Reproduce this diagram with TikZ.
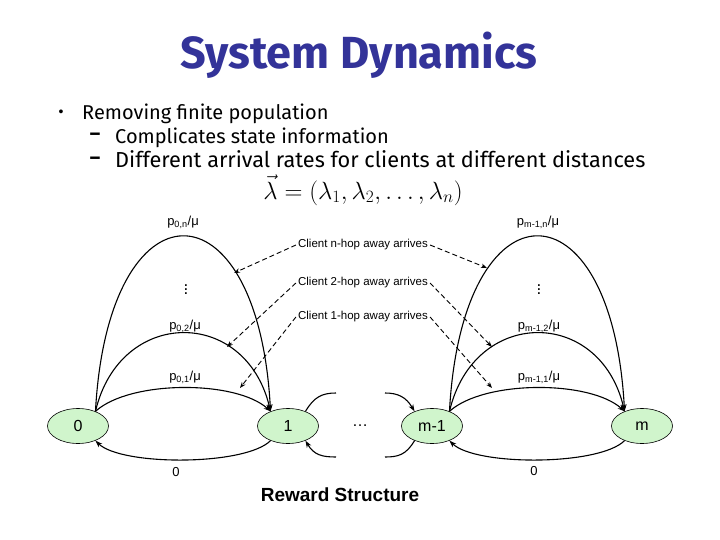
\documentclass[tikz,border=0pt]{standalone}
\usepackage{fontspec}
\setmainfont{Liberation Sans}
\newfontfamily\comicfont{Fira Sans}
\usetikzlibrary{shapes.geometric,arrows.meta}
\definecolor{stategreen}{RGB}{208,245,204}
\definecolor{titleblue}{RGB}{51,51,153}
\begin{document}
\begin{tikzpicture}[x=1pt,y=-1pt,
  state/.style={ellipse,draw,line width=0.6pt,fill=stategreen,minimum width=61pt,minimum height=35pt,inner sep=0pt,font=\fontsize{16}{18}\selectfont},
  trans/.style={line width=1.1pt,-{Stealth[length=7pt,width=5pt]}},
  plain/.style={line width=1.1pt},
  dasharrow/.style={line width=0.9pt,dash pattern=on 5pt off 3pt,-{Stealth[length=6pt,width=4.5pt]}},
  rate/.style={font=\fontsize{13}{15}\selectfont,inner sep=1pt},
  vdotsstyle/.style={font=\fontsize{17}{19}\selectfont,inner sep=0pt},
  clientlbl/.style={font=\fontsize{11.5}{13}\selectfont,inner sep=2pt},
  bullettext/.style={anchor=base west,inner sep=0pt,font=\comicfont\fontsize{20}{24}\selectfont}]
\useasboundingbox (0,0) rectangle (720,540);
\fill[white] (0,0) rectangle (720,540);

% title and bullets
\node[font=\comicfont\bfseries\fontsize{45}{52}\selectfont,text=titleblue] (title) at (359,55) {System Dynamics};
\node[anchor=center,font=\fontsize{14}{16}\selectfont] (b1) at (61,113) {•};
\node[bullettext] (t1) at (82,120) {Removing finite population};
\node[anchor=center,font=\comicfont\bfseries\fontsize{20}{24}\selectfont] (d2) at (95,137) {–};
\node[bullettext] (t2) at (115,144) {Complicates state information};
\node[anchor=center,font=\comicfont\bfseries\fontsize{20}{24}\selectfont] (d3) at (95,161) {–};
\node[bullettext,font=\comicfont\fontsize{21.7}{24}\selectfont] (t3) at (115,168) {Different arrival rates for clients at different distances};
\node[font=\fontsize{25}{29}\selectfont] (lam) at (363,190) {$\vec{\lambda}=(\lambda_1,\lambda_2,\ldots,\lambda_n)$};

% states
\node[state] (n0) at (78,426) {0};
\node[state] (n1) at (288,426) {1};
\node[state] (nm1) at (432,426) {m-1};
\node[state] (nm) at (642,426) {m};
\node[font=\fontsize{16}{18}\selectfont] (dots) at (360,426) {\ldots};

% left arcs 0 -> 1
\draw[trans] (n0.40) .. controls (108,178) and (258,178) .. (n1.140);
\draw[trans] (n0.40) .. controls (120,307) and (246,307) .. (n1.140);
\draw[trans] (n0.40) .. controls (130,380) and (236,380) .. (n1.140);
\draw[trans] (n1.-140) .. controls (245,466) and (121,466) .. (n0.-40);
\node[rate] (l0n) at (183,222) {p\textsubscript{0,n}/μ};
\node[rate] (l02) at (185,326) {p\textsubscript{0,2}/μ};
\node[rate] (l01) at (185,377) {p\textsubscript{0,1}/μ};
\node[vdotsstyle] (vd0) at (186,287) {$\vdots$};
\node[rate] (z0) at (176,472) {0};

% right arcs m-1 -> m
\draw[trans] (nm1.40) .. controls (462,178) and (612,178) .. (nm.140);
\draw[trans] (nm1.40) .. controls (474,307) and (600,307) .. (nm.140);
\draw[trans] (nm1.40) .. controls (484,380) and (590,380) .. (nm.140);
\draw[trans] (nm.-140) .. controls (599,466) and (475,466) .. (nm1.-40);
\node[rate] (lmn) at (538,222) {p\textsubscript{m-1,n}/μ};
\node[rate] (lm2) at (539,326) {p\textsubscript{m-1,2}/μ};
\node[rate] (lm1) at (539,377) {p\textsubscript{m-1,1}/μ};
\node[vdotsstyle] (vdm) at (539,287) {$\vdots$};
\node[rate] (zm) at (534,471) {0};

% partial arcs around the dots
\coordinate (pa1) at (336,393);
\coordinate (pa2) at (385,393);
\coordinate (pa3) at (336,457);
\coordinate (pa4) at (385,457);
\draw[plain] (n1.40) .. controls (314,397) and (322,393) .. (pa1);
\draw[trans] (pa2) .. controls (398,393) and (406,397) .. (nm1.140);
\draw[trans] (pa3) .. controls (322,457) and (314,455) .. (n1.-40);
\draw[plain] (nm1.-140) .. controls (406,455) and (398,457) .. (pa4);

% client arrivals
\node[clientlbl] (c1) at (363,245) {Client n-hop away arrives};
\node[clientlbl] (c2) at (363,283) {Client 2-hop away arrives};
\node[clientlbl] (c3) at (363,317) {Client 1-hop away arrives};
\coordinate (e1l) at (234,273);
\coordinate (e2l) at (227,347);
\coordinate (e3l) at (240,388);
\coordinate (e1r) at (487,268);
\coordinate (e2r) at (492,347);
\coordinate (e3r) at (492,388);
\draw[dasharrow] (c1.west) -- (e1l);
\draw[dasharrow] (c2.west) -- (e2l);
\draw[dasharrow] (c3.west) -- (e3l);
\draw[dasharrow] (c1.east) -- (e1r);
\draw[dasharrow] (c2.east) -- (e2r);
\draw[dasharrow] (c3.east) -- (e3r);

\node[font=\bfseries\fontsize{19}{22}\selectfont] (rw) at (340,495) {Reward Structure};
\end{tikzpicture}
\end{document}
